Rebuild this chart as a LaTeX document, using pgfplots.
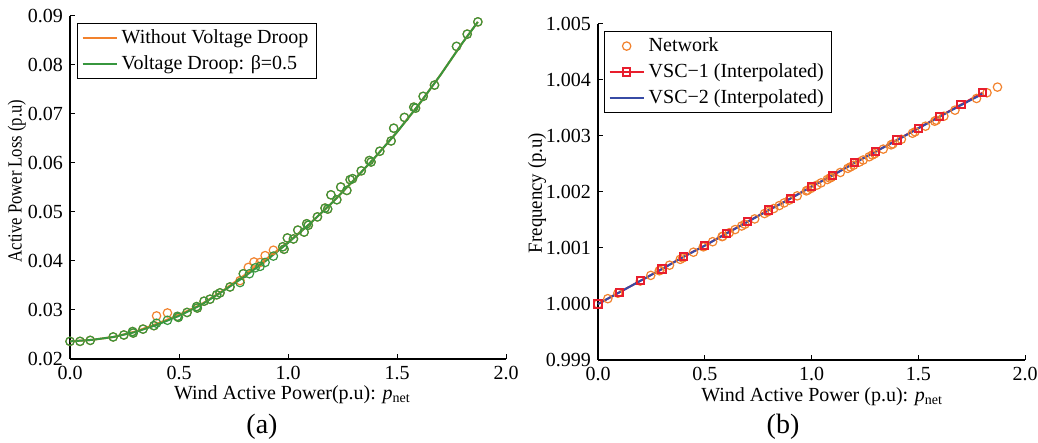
\documentclass[border=0pt]{standalone}
\usepackage{fontspec}
\setmainfont{Liberation Serif}
\usepackage{graphicx}
\usepackage{pgfplots}
\pgfplotsset{compat=1.18}
\definecolor{cor}{RGB}{242,130,45}
\definecolor{cgr}{RGB}{55,150,62}
\definecolor{cred}{RGB}{232,30,45}
\definecolor{cblu}{RGB}{55,75,165}
\pgfplotsset{myax/.style={
  scale only axis, axis x line*=bottom, axis y line*=left,
  tick align=inside, major tick length=2.5pt,
  axis line style={line width=0.6pt, black},
  tick style={line width=0.5pt, black},
  scaled x ticks=false, scaled y ticks=false,
  xmin=0, xmax=2, xtick={0,0.5,1,1.5,2}, xticklabels={0.0,0.5,1.0,1.5,2.0},
  ticklabel style={font=\fontsize{10}{11}\selectfont},
  label style={font=\fontsize{10}{11}\selectfont},
  legend cell align=left, clip=false,
  xlabel style={anchor=center},
  ylabel style={anchor=center},
  legend style={draw=black, line width=0.6pt, fill=white, font=\fontsize{10}{11}\selectfont,
    inner xsep=2pt, inner ysep=1pt, row sep=0.5pt},
}}
\begin{document}
\fontsize{10}{11.5}\selectfont
\begin{tikzpicture}
\useasboundingbox (0,0) rectangle (519pt,221.5pt);
\begin{axis}[myax, at={(35pt,42pt)}, anchor=south west, width=218pt, height=171.5pt,
  ymin=0.02, ymax=0.09, ytick={0.02,0.03,0.04,0.05,0.06,0.07,0.08,0.09},
  yticklabels={0.02,0.03,0.04,0.05,0.06,0.07,0.08,0.09},
  xlabel={Wind Active Power(p.u): \textit{p}\textsubscript{net}},
  ylabel={\scalebox{0.83}[1]{Active Power Loss (p.u)}},
  xlabel style={at={(axis description cs:0.51,-0.105)}},
  ylabel style={at={(axis description cs:-0.122,0.519)}},
  legend style={at={(0.016,0.98)}, anchor=north west}]
\addplot[cor, line width=1pt] coordinates {
(0,0.0236) (0.1,0.0239) (0.2,0.0245) (0.3,0.0256) (0.4,0.0272) (0.5,0.0290) (0.6,0.0311)
(0.7,0.0339) (0.8,0.0371) (0.9,0.0404) (1.0,0.0438) (1.1,0.0476) (1.2,0.0518) (1.3,0.0564)
(1.4,0.0612) (1.5,0.0663) (1.6,0.0719) (1.7,0.0780) (1.8,0.0845) (1.871,0.0888)};
\addlegendentry{Without Voltage Droop}
\addplot[cgr, line width=1pt] coordinates {
(0,0.0236) (0.1,0.0239) (0.2,0.0245) (0.3,0.0255) (0.4,0.0270) (0.5,0.0288) (0.6,0.0310)
(0.7,0.0338) (0.8,0.0368) (0.9,0.0401) (1.0,0.0437) (1.1,0.0476) (1.2,0.0518) (1.3,0.0564)
(1.4,0.0612) (1.5,0.0663) (1.6,0.0719) (1.7,0.0780) (1.8,0.0845) (1.871,0.0888)};
\addlegendentry{Voltage Droop: β=0.5}
\addplot[forget plot, only marks, mark=o, mark size=2.1pt, cor, mark options={line width=0.6pt}] coordinates {
(0,0.0236) (0.046,0.0236) (0.093,0.0238) (0.198,0.0245) (0.247,0.0249) (0.287,0.0256) (0.29,0.0253)
(0.335,0.0261) (0.385,0.0268) (0.397,0.0288) (0.447,0.0294) (0.493,0.0287) (0.497,0.0285)
(0.537,0.0295) (0.581,0.0307) (0.584,0.0304) (0.615,0.0318) (0.642,0.0322) (0.673,0.0331)
(0.688,0.0335) (0.734,0.0347) (0.78,0.0360) (0.795,0.0374) (0.818,0.0387) (0.844,0.0398)
(0.872,0.0397) (0.895,0.0411) (0.933,0.0422) (0.976,0.0429) (0.982,0.0424) (0.997,0.0447)
(1.025,0.0445) (1.045,0.0463) (1.074,0.0459) (1.086,0.0476) (1.093,0.0473) (1.135,0.0490)
(1.170,0.0508) (1.182,0.0506) (1.197,0.0535) (1.224,0.0525) (1.242,0.0551) (1.270,0.0544)
(1.285,0.0566) (1.296,0.0568) (1.336,0.0584) (1.373,0.0605) (1.381,0.0602) (1.421,0.0624)
(1.473,0.0645) (1.485,0.0671) (1.534,0.0693) (1.577,0.0714) (1.585,0.0712) (1.62,0.0736)
(1.672,0.0759) (1.773,0.0838) (1.822,0.0863) (1.871,0.0888)};
\addplot[forget plot, only marks, mark=o, mark size=2.1pt, cgr, mark options={line width=0.6pt}] coordinates {
(0,0.0236) (0.046,0.0236) (0.093,0.0238) (0.198,0.0245) (0.247,0.0249) (0.287,0.0256) (0.29,0.0253)
(0.335,0.0261) (0.385,0.0268) (0.397,0.0273) (0.447,0.0279) (0.493,0.0287) (0.497,0.0285)
(0.537,0.0295) (0.581,0.0307) (0.584,0.0304) (0.615,0.0318) (0.642,0.0322) (0.673,0.0331)
(0.688,0.0335) (0.734,0.0347) (0.78,0.0356) (0.795,0.0374) (0.823,0.0374) (0.849,0.0386)
(0.872,0.0389) (0.895,0.0397) (0.933,0.0410) (0.976,0.0429) (0.982,0.0424) (0.997,0.0447)
(1.025,0.0445) (1.045,0.0463) (1.074,0.0459) (1.086,0.0476) (1.093,0.0473) (1.135,0.0490)
(1.170,0.0508) (1.182,0.0506) (1.197,0.0535) (1.224,0.0525) (1.242,0.0551) (1.270,0.0544)
(1.285,0.0566) (1.296,0.0568) (1.336,0.0584) (1.373,0.0605) (1.381,0.0602) (1.421,0.0624)
(1.473,0.0645) (1.485,0.0671) (1.534,0.0693) (1.577,0.0714) (1.585,0.0712) (1.62,0.0736)
(1.672,0.0759) (1.773,0.0838) (1.822,0.0863) (1.871,0.0888)};
\end{axis}
\node[font=\fontsize{14}{16}\selectfont] at (131pt,8pt) {(a)};
\begin{axis}[myax, at={(299pt,41.5pt)}, anchor=south west, width=213.5pt, height=168pt,
  ymin=-1, ymax=5, ytick={-1,0,1,2,3,4,5},
  yticklabels={0.999,1.000,1.001,1.002,1.003,1.004,1.005},
  xlabel={Wind Active Power (p.u): \textit{p}\textsubscript{net}},
  ylabel={\scalebox{0.94}[1]{Frequency (p.u)}},
  xlabel style={at={(axis description cs:0.525,-0.11)}},
  ylabel style={at={(axis description cs:-0.1429,0.497)}},
  legend style={at={(0.014,0.979)}, anchor=north west}]
% values plotted as (frequency - 1) x 1000
\addplot[only marks, mark=o, mark size=2.1pt, cor, mark options={line width=0.6pt}] coordinates {
(0,0.000) (0.046,0.095) (0.093,0.193) (0.198,0.410) (0.247,0.511) (0.287,0.594) (0.29,0.600)
(0.335,0.693) (0.385,0.797) (0.397,0.822) (0.447,0.925) (0.493,1.021) (0.497,1.029)
(0.537,1.112) (0.581,1.203) (0.584,1.209) (0.615,1.273) (0.642,1.329) (0.673,1.393)
(0.688,1.424) (0.734,1.519) (0.78,1.615) (0.795,1.646) (0.823,1.704) (0.849,1.757)
(0.872,1.805) (0.895,1.853) (0.933,1.931) (0.976,2.020) (0.982,2.033) (0.997,2.064)
(1.025,2.122) (1.045,2.163) (1.074,2.223) (1.086,2.248) (1.093,2.263) (1.135,2.349)
(1.170,2.422) (1.182,2.447) (1.197,2.478) (1.224,2.534) (1.242,2.571) (1.270,2.629)
(1.285,2.660) (1.296,2.683) (1.336,2.766) (1.373,2.842) (1.381,2.859) (1.421,2.941)
(1.473,3.049) (1.485,3.074) (1.534,3.175) (1.577,3.264) (1.585,3.281) (1.62,3.353)
(1.672,3.461) (1.773,3.670) (1.822,3.772) (1.871,3.873)};
\addlegendentry{Network}
\addplot[cred, line width=1pt, mark=square, mark size=1.8pt, mark options={line width=1pt}] coordinates {
(0,0) (0.1,0.208) (0.2,0.417) (0.3,0.625) (0.4,0.845) (0.5,1.042) (0.6,1.260) (0.7,1.470)
(0.8,1.680) (0.9,1.880) (1.0,2.100) (1.1,2.300) (1.2,2.520) (1.3,2.720) (1.4,2.930)
(1.5,3.140) (1.6,3.350) (1.7,3.560) (1.8,3.770)};
\addlegendentry{VSC−1 (Interpolated)}
\addplot[cblu, line width=1pt] coordinates {
(0,0) (0.1,0.208) (0.2,0.417) (0.3,0.625) (0.4,0.840) (0.5,1.042) (0.6,1.255) (0.7,1.465)
(0.8,1.675) (0.9,1.880) (1.0,2.095) (1.1,2.300) (1.2,2.515) (1.3,2.720) (1.4,2.925)
(1.5,3.135) (1.6,3.345) (1.7,3.550) (1.8,3.750)};
\addlegendentry{VSC−2 (Interpolated)}
\end{axis}
\node[font=\fontsize{14}{16}\selectfont] at (391.5pt,8pt) {(b)};
\end{tikzpicture}
\end{document}
